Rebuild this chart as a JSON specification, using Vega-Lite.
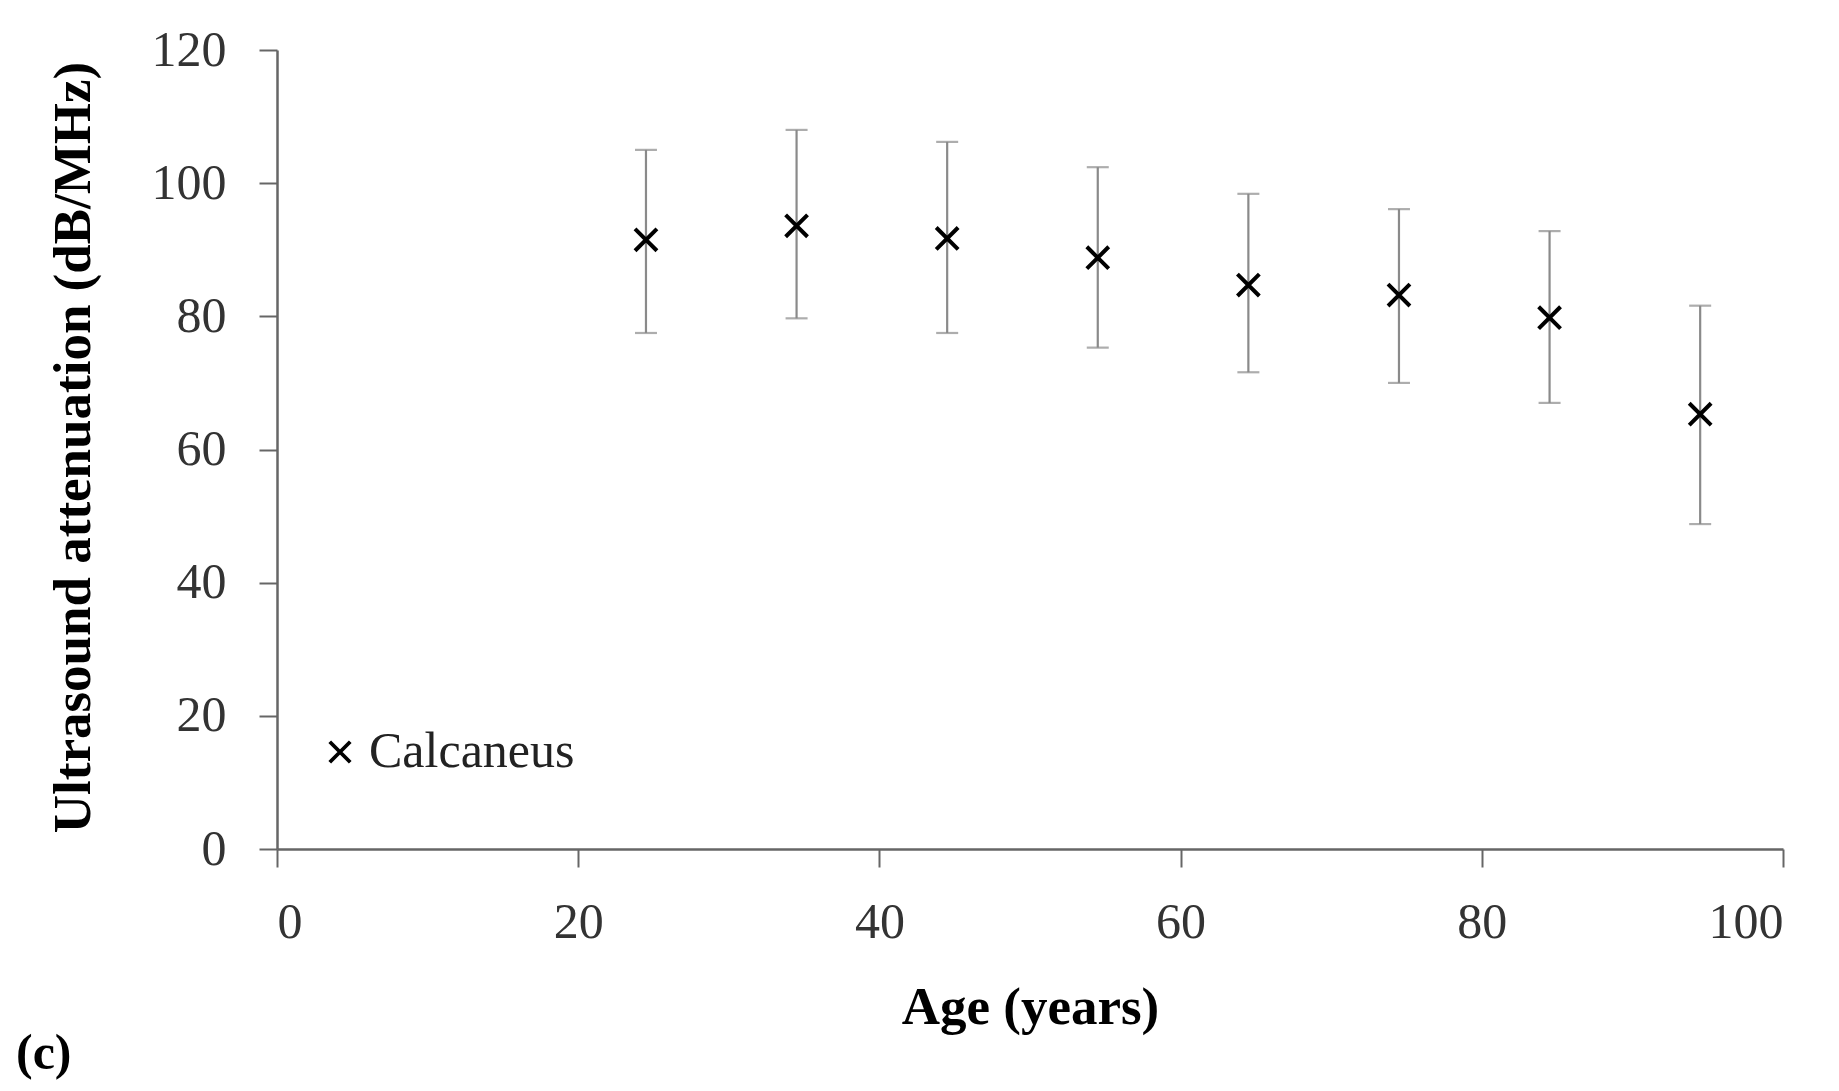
{
  "$schema": "https://vega.github.io/schema/vega-lite/v6.json",
  "width": 1506,
  "height": 799,
  "autosize": {"type": "none"},
  "padding": {"left": 277, "top": 50, "right": 56, "bottom": 242},
  "background": "white",
  "title": {
    "text": "(c)",
    "orient": "bottom",
    "anchor": "start",
    "frame": "group",
    "dx": -261,
    "offset": -5,
    "font": "Liberation Serif",
    "fontSize": 50,
    "fontWeight": "bold",
    "color": "black"
  },
  "config": {
    "view": {"stroke": null},
    "axis": {
      "grid": false,
      "domainColor": "#666666",
      "domainWidth": 2.5,
      "tickColor": "#666666",
      "tickWidth": 2,
      "tickSize": 18,
      "labelFont": "Liberation Serif",
      "labelFontSize": 50,
      "labelColor": "#333333",
      "titleFont": "Liberation Serif",
      "titleFontSize": 53,
      "titleFontWeight": "bold",
      "titleColor": "black"
    },
    "legend": {
      "labelFont": "Liberation Serif",
      "labelFontSize": 50,
      "labelColor": "#222222",
      "labelLimit": 0
    }
  },
  "data": {
    "values": [
      {"age": 24.5, "mean": 91.5, "lo": 77.5, "hi": 105.0, "site": "Calcaneus"},
      {"age": 34.5, "mean": 93.6, "lo": 79.7, "hi": 108.0, "site": "Calcaneus"},
      {"age": 44.5, "mean": 91.7, "lo": 77.5, "hi": 106.2, "site": "Calcaneus"},
      {"age": 54.5, "mean": 88.8, "lo": 75.3, "hi": 102.4, "site": "Calcaneus"},
      {"age": 64.5, "mean": 84.7, "lo": 71.6, "hi": 98.4, "site": "Calcaneus"},
      {"age": 74.5, "mean": 83.2, "lo": 70.0, "hi": 96.1, "site": "Calcaneus"},
      {"age": 84.5, "mean": 79.8, "lo": 67.0, "hi": 92.8, "site": "Calcaneus"},
      {"age": 94.5, "mean": 65.3, "lo": 48.8, "hi": 81.6, "site": "Calcaneus"}
    ]
  },
  "encoding": {
    "x": {
      "field": "age",
      "type": "quantitative",
      "scale": {"domain": [0, 100], "nice": false},
      "axis": {
        "title": "Age (years)",
        "values": [0, 20, 40, 60, 80, 100],
        "labelPadding": 30,
        "titleX": 753,
        "titleY": 158,
        "titleBaseline": "middle",
        "titleAlign": "center"
      }
    }
  },
  "layer": [
    {
      "mark": {"type": "rule", "color": "#8a8a8a", "strokeWidth": 2.2},
      "encoding": {
        "y": {
          "field": "lo",
          "type": "quantitative",
          "scale": {"domain": [0, 120], "nice": false},
          "axis": {
            "title": "Ultrasound attenuation (dB/MHz)",
            "values": [0, 20, 40, 60, 80, 100, 120],
            "labelPadding": 33,
            "titleX": -204,
            "titleY": 397,
            "titleAngle": -90,
            "titleBaseline": "middle",
            "titleAlign": "center"
          }
        },
        "y2": {"field": "hi"}
      }
    },
    {
      "mark": {"type": "tick", "orient": "horizontal", "color": "#8a8a8a", "size": 22, "thickness": 2.2},
      "encoding": {"y": {"field": "lo", "type": "quantitative"}}
    },
    {
      "mark": {"type": "tick", "orient": "horizontal", "color": "#8a8a8a", "size": 22, "thickness": 2.2},
      "encoding": {"y": {"field": "hi", "type": "quantitative"}}
    },
    {
      "mark": {"type": "point", "filled": false, "strokeWidth": 4, "opacity": 1, "size": 480},
      "encoding": {
        "y": {"field": "mean", "type": "quantitative"},
        "shape": {
          "field": "site",
          "type": "nominal",
          "scale": {"domain": ["Calcaneus"], "range": ["M-1,-1L1,1M-1,1L1,-1"]},
          "legend": {
            "title": null,
            "orient": "none",
            "legendX": 38,
            "legendY": 677,
            "padding": 0,
            "symbolSize": 420,
            "symbolStrokeWidth": 3.8,
            "symbolStrokeColor": "black",
            "symbolFillColor": "transparent",
            "labelOffset": 4
          }
        },
        "color": {"value": "black"}
      }
    }
  ]
}
